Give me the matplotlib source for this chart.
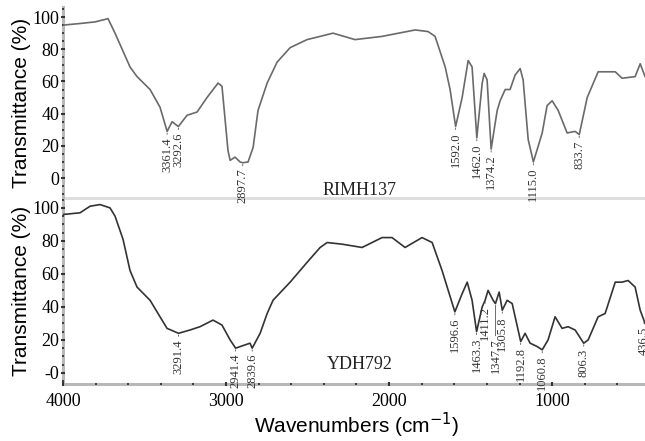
"""FTIR spectra of RIMH137 (top) and YDH792 (bottom), stacked panels."""

import numpy as np
import matplotlib
matplotlib.use("Agg")
import matplotlib.pyplot as plt
from matplotlib.ticker import MultipleLocator, FixedLocator

# --- RIMH137 spectrum (wavenumber cm-1, transmittance %) ---
rimh_wn = [4000, 3896, 3804, 3724, 3681, 3589, 3546, 3466, 3405, 3361.4, 3331, 3292.6,
           3239, 3178, 3117, 3049, 3025, 2988, 2975, 2945, 2914, 2897.7, 2865, 2834,
           2804, 2748, 2687, 2607, 2503, 2423, 2344, 2209, 2043, 1840, 1761, 1718,
           1656, 1626, 1592.0, 1552, 1515, 1491, 1462.0, 1429, 1417, 1399, 1374.2,
           1337, 1319, 1288, 1258, 1227, 1196, 1178, 1147, 1115.0, 1061, 1031, 1000,
           963, 908, 859, 833.7, 785, 718, 613, 571, 491, 460, 430]
rimh_t = [95, 96, 97, 99, 90, 69, 63, 55, 44, 29, 35, 32,
          39, 41, 50, 59, 57, 17, 11, 13, 10, 9.5, 10, 19,
          42, 59, 72, 81, 86, 88, 90, 86, 88, 92, 91, 88,
          69, 55, 32, 50, 73, 69, 25, 59, 65, 61, 18,
          42, 48, 55, 55, 64, 68, 61, 24, 10, 28, 45, 48,
          42, 28, 29, 27, 50, 66, 66, 62, 63, 71, 63]

# --- YDH792 spectrum ---
ydh_wn = [4000, 3896, 3834, 3773, 3712, 3681, 3632, 3589, 3546, 3466, 3405, 3362,
          3291.4, 3221, 3160, 3080, 3025, 2975, 2941.4, 2883, 2853, 2839.6, 2791,
          2748, 2712, 2607, 2503, 2423, 2380, 2288, 2166, 2043, 1982, 1902, 1798,
          1736, 1675, 1596.6, 1552, 1521, 1491, 1463.3, 1429, 1411.2, 1393, 1362,
          1347.7, 1325, 1305.8, 1276, 1245, 1227, 1192.8, 1166, 1135, 1092, 1060.8,
          1025, 982, 939, 902, 859, 806.3, 779, 718, 675, 613, 571, 534, 491, 460, 430]
ydh_t = [96, 97, 101, 102, 100, 95, 81, 62, 52, 44, 34, 27,
         24, 26, 28, 32, 29, 20, 15, 17, 18, 15, 24,
         36, 44, 55, 67, 76, 79, 78, 76, 82, 82, 76, 82,
         79, 62, 37, 48, 55, 44, 25, 40, 44, 50, 44,
         42, 49, 38, 44, 42, 34, 19, 24, 18, 16, 14,
         20, 34, 27, 28, 26, 18, 20, 34, 36, 55, 55, 56, 52, 38, 30]

rimh_peaks = ["3361.4", "3292.6", "2897.7", "1592.0", "1462.0", "1374.2", "1115.0", "833.7"]
ydh_peaks = ["3291.4", "2941.4", "2839.6", "1596.6", "1463.3", "1411.2", "1347.7",
             "1305.8", "1192.8", "1060.8", "806.3", "436.5"]

y_ticks = [0, 20, 40, 60, 80, 100]
rimh_ytick_labels = ["0", "20", "40", "60", "80", "100"]
ydh_ytick_labels = ["-0", "20", "40", "60", "80", "100"]
x_ticks = [4000, 3000, 2000, 1000]

SERIF = "Liberation Serif"
SANS = "Liberation Sans"
SPINE = "#b8b8b8"

fig = plt.figure(figsize=(6.45, 4.41), dpi=100)
ax_top = fig.add_axes([0.0977, 0.551, 0.91, 0.4322])
ax_bot = fig.add_axes([0.0977, 0.1293, 0.91, 0.4218])


def style(ax, ylabels):
    for s in ("top", "right"):
        ax.spines[s].set_visible(False)
    ax.spines["left"].set_color(SPINE)
    ax.spines["left"].set_linewidth(2.2)
    ax.spines["left"].set_zorder(1)  # keep tick dots on top of the grey spine
    ax.set_xlim(4000, 400)
    ax.yaxis.set_major_locator(FixedLocator(y_ticks))
    ax.set_yticklabels(ylabels, fontfamily=SERIF, fontsize=13)
    ax.yaxis.set_minor_locator(MultipleLocator(5))
    ax.tick_params(axis="y", which="both", direction="inout", color="#333333",
                   pad=1)
    ax.tick_params(axis="y", which="major", length=3.5, width=1.5)
    ax.tick_params(axis="y", which="minor", length=2, width=1.3)
    ax.set_ylabel("Transmittance (%)", fontfamily=SANS, fontsize=15, labelpad=1)


def label_peaks(ax, wn, t, peaks, drops):
    xs = np.array(wn)[::-1]
    ys = np.array(t)[::-1]
    for p in peaks:
        v = float(p)
        yv = np.interp(v, xs, ys)
        ax.annotate(p, xy=(v, yv - 1), xytext=(0, drops.get(p, -3)),
                    textcoords="offset points", rotation=90, ha="center", va="top",
                    fontfamily=SERIF, fontsize=9, color="#333333",
                    annotation_clip=False,
                    arrowprops=dict(arrowstyle="-", lw=0.6, color="#555555",
                                    shrinkA=0, shrinkB=0))


# top panel
ax_top.plot(rimh_wn, rimh_t, color="#6a6a6a", lw=1.2)
style(ax_top, rimh_ytick_labels)
ax_top.set_ylim(-12.4, 106)
ax_top.spines["bottom"].set_color("#dcdcdc")
ax_top.spines["bottom"].set_linewidth(2)
ax_top.set_xticks([])
ax_top.text(2411, -7.5, "RIMH137", fontfamily=SERIF, fontsize=13,
            ha="left", va="center", color="#222222")
label_peaks(ax_top, rimh_wn, rimh_t, rimh_peaks, {})

# bottom panel
ax_bot.plot(ydh_wn, ydh_t, color="#333333", lw=1.2)
style(ax_bot, ydh_ytick_labels)
ax_bot.set_ylim(-6.7, 106)
ax_bot.patch.set_alpha(0)
ax_bot.spines["bottom"].set_color(SPINE)
ax_bot.spines["bottom"].set_linewidth(2.2)
ax_bot.spines["bottom"].set_zorder(1)
ax_bot.xaxis.set_major_locator(FixedLocator(x_ticks))
ax_bot.set_xticklabels([str(x) for x in x_ticks], fontfamily=SERIF, fontsize=13)
ax_bot.xaxis.set_minor_locator(MultipleLocator(200))
ax_bot.tick_params(axis="x", which="both", direction="inout", color="#333333", pad=5)
ax_bot.tick_params(axis="x", which="major", length=3.5, width=1.5)
ax_bot.tick_params(axis="x", which="minor", length=2, width=1.3)
ax_bot.set_xlabel("Wavenumbers (cm$^{-1}$)", fontfamily=SANS, fontsize=15, labelpad=0)
ax_bot.text(2380, 5, "YDH792", fontfamily=SERIF, fontsize=13,
            ha="left", va="center", color="#222222")
label_peaks(ax_bot, ydh_wn, ydh_t, ydh_peaks, {"1347.7": -24})

fig.savefig("out.png", dpi=100)
